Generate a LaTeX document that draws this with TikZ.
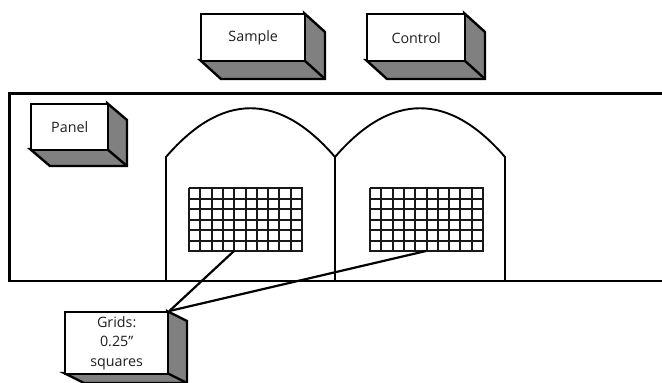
\documentclass[tikz,border=0pt]{standalone}
\usepackage{fontspec}
\setmainfont{Open Sans}
\usetikzlibrary{calc}
\tikzset{
  outline/.style={draw=black,line width=2.4pt,line join=miter},
  frameline/.style={draw=black,line width=2.2pt,line join=miter},
  archline/.style={draw=black,line width=1.9pt,line join=miter},
  boxside/.style={outline,fill=black!50},
  griddraw/.style={draw=black!90,line width=1.5pt},
  leader/.style={draw=black,line width=2.2pt},
}
\newcommand{\solidbox}[8]{% name,x1,y1,x2,y2,dx,dy,text
  \draw[boxside] (#4,#3) -- (#4+#6,#3+#7) -- (#4+#6,#5+#7) -- (#2+#6,#5+#7) -- (#2,#5) -- (#4,#5) -- cycle;
  \draw[outline] (#4,#5) -- (#4+#6,#5+#7);
  \node[outline,fill=white,inner sep=0pt,anchor=north west,minimum width=#4pt-#2pt,minimum height=#5pt-#3pt,align=center,font=\fontsize{14.3}{19.5}\selectfont,text=black!88] (#1) at (#2,#3) {#8};
}
\newcommand{\meshgrid}[3]{% name,x,y
  \coordinate (#1) at (#2,#3);
  \foreach \i in {0,...,10} {
    \pgfmathsetmacro{\gx}{round(\i*11.3)+0.5}
    \draw[griddraw] ($(#1)+(\gx,0)$) -- ($(#1)+(\gx,64)$);
  }
  \foreach \j in {0,...,6} {
    \pgfmathsetmacro{\gy}{round(\j*10.5)+0.5}
    \draw[griddraw] ($(#1)+(0,\gy)$) -- ($(#1)+(114,\gy)$);
  }
}
\begin{document}
\begin{tikzpicture}[x=1pt,y=-1pt]
\useasboundingbox (0,0) rectangle (662,383);
\fill[white] (0,0) rectangle (662,383);
\draw[frameline] (663,93.5) -- (9.5,93.5) -- (9.5,281) -- (663,281);
\draw[archline] (166,281) -- (166,157) .. controls (222,92) and (279,92) .. (335,157) .. controls (391,92) and (449,92) .. (505,157) -- (505,281);
\draw[archline] (335,157) -- (335,281);
\meshgrid{gridA}{188.5}{187.5}
\meshgrid{gridB}{369.5}{187.5}
\solidbox{sample}{200}{13}{304}{60}{21}{19}{Sample}
\solidbox{control}{366}{13}{464}{60}{21}{19}{Control}
\solidbox{panel}{30}{103}{107}{149}{20}{17}{Panel}
\coordinate (endA) at (234,251);
\coordinate (endB) at (426,251);
\solidbox{grids}{64}{311}{167}{373}{20}{10}{Grids:\\0.25"\\squares}
\draw[leader] (endA) -- (grids.north east);
\draw[leader] (endB) -- (grids.north east);
\end{tikzpicture}
\end{document}
